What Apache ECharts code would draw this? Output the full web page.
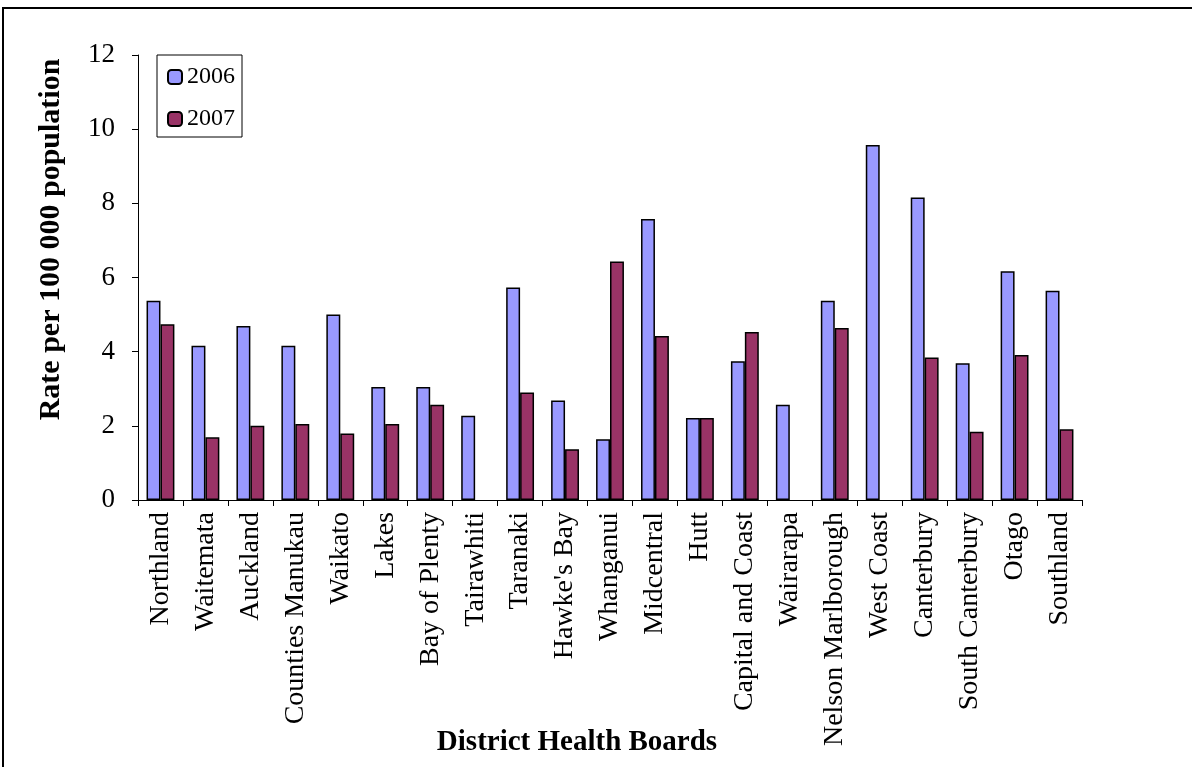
<!DOCTYPE html>
<html>
<head>
<meta charset="utf-8">
<script src="https://cdn.jsdelivr.net/npm/echarts@6/dist/echarts.min.js"></script>
<style>html,body{margin:0;padding:0;background:#fff}#c{width:1192px;height:767px}</style>
</head>
<body>
<div id="c"></div>
<script>
const categories = ["Northland","Waitemata","Auckland","Counties Manukau","Waikato","Lakes","Bay of Plenty","Tairawhiti","Taranaki","Hawke's Bay","Whanganui","Midcentral","Hutt","Capital and Coast","Wairarapa","Nelson Marlborough","West Coast","Canterbury","South Canterbury","Otago","Southland"];
const rate2006 = [5.37,4.16,4.69,4.16,5.0,3.05,3.05,2.27,5.73,2.68,1.64,7.58,2.21,3.74,2.57,5.37,9.57,8.16,3.69,6.17,5.64];
const rate2007 = [4.74,1.69,2.0,2.05,1.79,2.05,2.57,null,2.9,1.37,6.43,4.42,2.21,4.53,null,4.64,null,3.84,1.84,3.91,1.91];
const seriesNames = ["2006","2007"];
const yTitle = "Rate per 100 000 population";
const xTitle = "District Health Boards";

const font = "'Liberation Serif','Times New Roman',serif";
const chart = echarts.init(document.getElementById('c'), null, {renderer:'canvas'});
chart.setOption({
  animation:false,
  backgroundColor:'#fff',
  graphic:[{type:'rect', shape:{x:3,y:8,width:1400,height:1000}, style:{fill:'none',stroke:'#000',lineWidth:2}, silent:true, z:-1}],
  grid:{left:138,right:110,top:55,bottom:267,containLabel:false,outerBoundsMode:'none'},
  legend:{
    left:157, top:55, orient:'vertical',
    backgroundColor:'#fff', borderColor:'#000', borderWidth:1,
    padding:[10,7,6,10], itemGap:18, itemWidth:14, itemHeight:14,
    textStyle:{fontFamily:font,fontSize:24,color:'#000',lineHeight:24},
    data:seriesNames
  },
  xAxis:{
    type:'category', data:categories,
    axisLine:{show:true,lineStyle:{color:'#000',width:1}},
    axisTick:{show:true,alignWithLabel:false,length:6,lineStyle:{color:'#000'}},
    axisLabel:{rotate:90,margin:12,interval:0,fontFamily:font,fontSize:28,color:'#000'},
    name:xTitle, nameLocation:'middle', nameGap:228, nameMoveOverlap:false,
    nameTextStyle:{fontFamily:font,fontSize:29,fontWeight:'bold',color:'#000',padding:[0,66,0,0]}
  },
  yAxis:{
    type:'value', min:0, max:12, interval:2,
    axisLine:{show:true,lineStyle:{color:'#000',width:1}},
    axisTick:{show:true,length:6,lineStyle:{color:'#000'}},
    splitLine:{show:false},
    axisLabel:{margin:23,fontFamily:font,fontSize:27,color:'#000'},
    name:yTitle, nameLocation:'middle', nameGap:72, nameRotate:90, nameMoveOverlap:false,
    nameTextStyle:{fontFamily:font,fontSize:30,fontWeight:'bold',color:'#000',padding:[0,0,0,76]}
  },
  series:[
    {name:seriesNames[0],type:'bar',data:rate2006,barGap:'0%',barCategoryGap:'38%',
     itemStyle:{color:'#9999FF',borderColor:'#000',borderWidth:1.5}},
    {name:seriesNames[1],type:'bar',data:rate2007,barGap:'0%',barCategoryGap:'38%',
     itemStyle:{color:'#993366',borderColor:'#000',borderWidth:1.5}}
  ]
});
</script>
</body>
</html>
